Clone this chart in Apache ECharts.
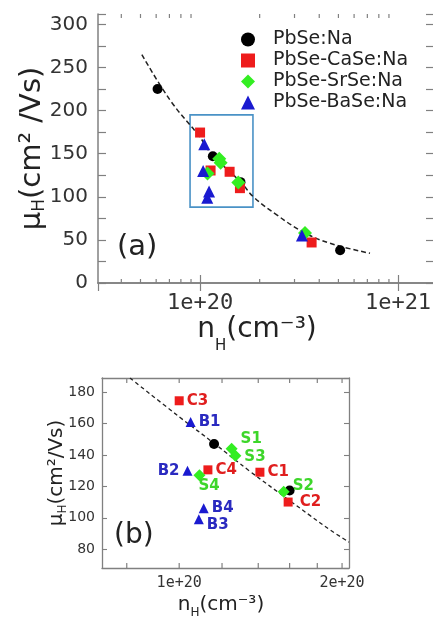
<!DOCTYPE html>
<html>
<head>
<meta charset="utf-8">
<script src="https://cdn.jsdelivr.net/npm/echarts@6/dist/echarts.min.js"></script>
<style>
html, body { margin: 0; padding: 0; background: #fff; }
#chart { width: 433px; height: 617px; }
</style>
</head>
<body>
<div id="chart"></div>
<script>
// ---- panel (a): every sample ----
var pbseN  = [6.1e19, 1.16e20, 1.6e20, 5.1e20];
var pbseMu = [225, 147, 117, 38];
var caseN  = [1.0e20, 1.13e20, 1.41e20, 1.59e20, 3.66e20];
var caseMu = [174.5, 130.5, 129, 110, 47];
var srseN  = [1.25e20, 1.27e20, 1.09e20, 1.56e20, 3.39e20];
var srseMu = [144, 139.5, 127, 116.5, 58];
var baseN  = [1.05e20, 1.036e20, 1.11e20, 1.087e20, 3.27e20];
var baseMu = [161, 130, 106, 99, 55];

// dashed guide curve as read from (a)
var fitAN  = [5.08e19, 7.06e19, 1.0e20, 1.146e20, 1.606e20, 1.858e20, 2.44e20, 3.33e20, 4.54e20, 7.22e20];
var fitAMu = [265, 212, 169, 149, 117, 100, 79, 59, 46, 34.5];

// the blue box in (a): nLow, muHigh, nHigh, muLow
var zoomBox = [8.9e19, 195, 1.85e20, 88];

// axis ranges
var rangeA = [3.05e19, 1.52e21, 0, 312];
var rangeB = [7.2e19, 2.06e20, 68, 189];
var minorTicksA = [4e19, 5e19, 6e19, 7e19, 8e19, 9e19, 2e20, 3e20, 4e20, 5e20, 6e20, 7e20, 8e20, 9e20];
var ticksB = [8e19, 1e20, 1.2e20, 1.4e20, 1.6e20, 1.8e20, 2e20];
var tickLabelsB = [1e20, 2e20];

// ---- panel (b): zoomed samples with tags ----
var pbseBN  = [1.16e20, 1.6e20];
var pbseBMu = [147, 117.3];
var caseBN  = [1.0e20, 1.13e20, 1.41e20, 1.59e20];
var caseBMu = [174.5, 130.5, 129, 110];
var caseBTag = ['C3', 'C4', 'C1', 'C2'];
var srseBN  = [1.25e20, 1.27e20, 1.09e20, 1.56e20];
var srseBMu = [144, 139.5, 127, 116.5];
var srseBTag = ['S1', 'S3', 'S4', 'S2'];
var baseBN  = [1.05e20, 1.036e20, 1.11e20, 1.087e20];
var baseBMu = [161, 130, 106, 99];
var baseBTag = ['B1', 'B2', 'B4', 'B3'];

var fitBN  = [8.11e19, 1.0e20, 1.164e20, 1.351e20, 1.602e20, 1.744e20, 1.9e20, 2.06e20];
var fitBMu = [189, 164.3, 147, 129.6, 110.8, 101.5, 92.3, 84.5];

var names = ['PbSe:Na', 'PbSe-CaSe:Na', 'PbSe-SrSe:Na', 'PbSe-BaSe:Na'];
var colors = ['#000000', '#ee1c1c', '#33ee22', '#1a1ad0'];
var tagColors = ['#000000', '#e01e1e', '#3dd62a', '#2a2ac0'];
var symbols = ['circle', 'rect', 'diamond', 'triangle'];
var sizesA = [10, 10, 14, 12];
var sizesB = [10, 9, 12, 10];

// where each tag sits next to its marker
var tagPlace = {
    C3: {}, B1: {}, S3: {offset: [0, 1]}, C4: {}, C1: {}, B4: {},
    S1: {offset: [0, -10]},
    B2: {position: 'left'},
    S4: {offset: [-10, 11]},
    S2: {offset: [0, -6]},
    C2: {distance: 7},
    B3: {offset: [0, 6]}
};

function pairs(n, mu) {
    return n.map(function (v, i) { return [v, mu[i]]; });
}
function tagged(n, mu, tags) {
    return n.map(function (v, i) {
        return {value: [v, mu[i]], name: tags[i], label: tagPlace[tags[i]]};
    });
}
function expLabel(v) {
    var e = Math.floor(Math.log10(v) + 1e-9);
    var m = Math.round(v / Math.pow(10, e));
    return m + 'e+' + e;
}

var grayAxis = {lineStyle: {color: '#808080', width: 1.5}};
var grayAxisB = {lineStyle: {color: '#808080', width: 1.3}};

function tickSeries(xi, yi, values, len, yVal) {
    return {
        type: 'custom', name: 'ticks' + xi, xAxisIndex: xi, yAxisIndex: yi, silent: true, z: 6,
        data: values.map(function (v) { return [v, yVal]; }),
        renderItem: function (params, api) {
            var x = api.coord([api.value(0), api.value(1)])[0];
            var cs = params.coordSys;
            var st = {stroke: '#808080', lineWidth: 1.2};
            return {type: 'group', children: [
                {type: 'line', shape: {x1: x, y1: cs.y + cs.height, x2: x, y2: cs.y + cs.height - len}, style: st},
                {type: 'line', shape: {x1: x, y1: cs.y, x2: x, y2: cs.y + len}, style: st}
            ]};
        }
    };
}

var subRich = function (main, sub, lh) {
    return {
        m: {fontSize: main, fontFamily: 'DejaVu Sans', color: '#222', lineHeight: lh},
        s: {fontSize: sub, fontFamily: 'DejaVu Sans', color: '#222', verticalAlign: 'bottom'}
    };
};

var chart = echarts.init(document.getElementById('chart'));
var series = [];

// panel (a)
series.push({
    type: 'line', name: 'fitA', xAxisIndex: 0, yAxisIndex: 0, data: pairs(fitAN, fitAMu),
    smooth: 0.4, symbol: 'none', z: 2,
    lineStyle: {color: '#222', width: 1.5, type: [5, 3]},
    markArea: {
        silent: true,
        itemStyle: {color: 'rgba(0,0,0,0)', borderColor: '#4a92c6', borderWidth: 1.6},
        data: [[{coord: [zoomBox[0], zoomBox[1]]}, {coord: [zoomBox[2], zoomBox[3]]}]]
    }
});
[[pbseN, pbseMu], [caseN, caseMu], [srseN, srseMu], [baseN, baseMu]].forEach(function (d, i) {
    series.push({
        type: 'scatter', name: names[i], xAxisIndex: 0, yAxisIndex: 0, data: pairs(d[0], d[1]),
        symbol: symbols[i], symbolSize: sizesA[i], z: 3,
        itemStyle: {color: colors[i], opacity: 1}
    });
});
series.push(tickSeries(0, 0, minorTicksA, 4, 100));

// panel (b)
series.push({
    type: 'line', name: 'fitB', xAxisIndex: 2, yAxisIndex: 2, data: pairs(fitBN, fitBMu),
    smooth: 0.4, symbol: 'none', z: 2,
    lineStyle: {color: '#222', width: 1.3, type: [4, 3]}
});
[[pbseBN, pbseBMu, null], [caseBN, caseBMu, caseBTag], [srseBN, srseBMu, srseBTag], [baseBN, baseBMu, baseBTag]].forEach(function (d, i) {
    series.push({
        type: 'scatter', name: names[i], xAxisIndex: 2, yAxisIndex: 2,
        data: d[2] ? tagged(d[0], d[1], d[2]) : pairs(d[0], d[1]),
        symbol: symbols[i], symbolSize: sizesB[i], z: 3,
        itemStyle: {color: colors[i], opacity: 1},
        label: {
            show: !!d[2], position: 'right', distance: 3, formatter: '{b}',
            color: tagColors[i], fontSize: 15, fontWeight: 'bold', fontFamily: 'DejaVu Sans'
        }
    });
});
series.push(tickSeries(2, 2, ticksB, 5, 100));
series.push({
    type: 'custom', name: 'labelsB', xAxisIndex: 2, yAxisIndex: 2, silent: true,
    data: tickLabelsB.map(function (v) { return [v, 100]; }),
    renderItem: function (params, api) {
        var x = api.coord([api.value(0), api.value(1)])[0];
        var cs = params.coordSys;
        return {type: 'text', style: {
            text: expLabel(api.value(0)), x: x, y: cs.y + cs.height + 8,
            align: 'center', verticalAlign: 'top',
            fontSize: 15, fontFamily: 'DejaVu Sans Mono', fill: '#333'
        }};
    }
});

var option = {
    animation: false,
    backgroundColor: '#fff',
    grid: [
        {left: 98, top: 14, width: 336, height: 269, containLabel: false, outerBoundsMode: 'none'},
        {left: 102, top: 378, width: 247, height: 190, containLabel: false, outerBoundsMode: 'none'}
    ],
    legend: {
        data: names.map(function (n, i) { return {name: n, icon: symbols[i]}; }),
        orient: 'vertical', left: 236, top: 25, itemWidth: 14, itemHeight: 14, itemGap: 2,
        selectedMode: false,
        textStyle: {fontSize: 19, fontFamily: 'DejaVu Sans', color: '#222', lineHeight: 19, padding: [0, 0, 0, 13]}
    },
    graphic: [
        {type: 'text', left: 117, top: 233, style: {text: '(a)', fontSize: 29, fontFamily: 'DejaVu Sans', fill: '#222'}},
        {type: 'text', left: 114, top: 522, style: {text: '(b)', fontSize: 28, fontFamily: 'DejaVu Sans', fill: '#222'}}
    ],
    xAxis: [
        {
            type: 'log', gridIndex: 0, min: rangeA[0], max: rangeA[1], position: 'bottom',
            axisLine: grayAxis, splitLine: {show: false},
            axisTick: {inside: true, length: 8, lineStyle: {color: '#808080', width: 1.2}},
            axisLabel: {
                margin: 9, fontSize: 22, fontFamily: 'DejaVu Sans Mono', color: '#333',
                showMinLabel: false, showMaxLabel: false,
                formatter: function (v) {
                    var e = Math.log10(v);
                    return Math.abs(e - Math.round(e)) < 1e-6 ? '1e+' + Math.round(e) : '';
                }
            },
            name: '{m|n}{s|H}{m|(cm⁻³)}', nameLocation: 'middle', nameGap: 23, nameMoveOverlap: false,
            nameTextStyle: {padding: [0, 18, 0, 0], rich: subRich(28, 15, 48)}
        },
        {
            type: 'log', gridIndex: 0, min: rangeA[0], max: rangeA[1], position: 'top',
            axisLine: grayAxis, splitLine: {show: false}, axisLabel: {show: false},
            axisTick: {inside: true, length: 8, lineStyle: {color: '#808080', width: 1.2}}
        },
        {
            type: 'log', gridIndex: 1, min: rangeB[0], max: rangeB[1], position: 'bottom',
            axisLine: grayAxisB, splitLine: {show: false},
            axisTick: {show: false}, axisLabel: {show: false},
            name: '{m|n}{s|H}{m|(cm⁻³)}', nameLocation: 'middle', nameGap: 23, nameMoveOverlap: false,
            nameTextStyle: {padding: [0, 9, 0, 0], rich: subRich(20, 12, 28)}
        },
        {
            type: 'log', gridIndex: 1, min: rangeB[0], max: rangeB[1], position: 'top',
            axisLine: grayAxisB, splitLine: {show: false},
            axisTick: {show: false}, axisLabel: {show: false}
        }
    ],
    yAxis: [
        {
            type: 'value', gridIndex: 0, min: rangeA[2], max: rangeA[3], interval: 25, position: 'left',
            axisLine: {show: true, lineStyle: grayAxis.lineStyle}, splitLine: {show: false},
            axisTick: {show: true, inside: true, length: 8, lineStyle: {color: '#808080', width: 1.2}},
            axisLabel: {
                margin: 10, fontSize: 20, fontFamily: 'DejaVu Sans', color: '#333',
                formatter: function (v) { return v % 50 === 0 ? String(v) : ''; }
            },
            name: '{m|μ}{s|H}{m|(cm² /Vs)}', nameLocation: 'middle', nameGap: 50, nameRotate: 90,
            nameMoveOverlap: false,
            nameTextStyle: {rich: subRich(29, 17, 32)}
        },
        {
            type: 'value', gridIndex: 0, min: rangeA[2], max: rangeA[3], interval: 25, position: 'right',
            axisLine: {show: true, lineStyle: grayAxis.lineStyle}, splitLine: {show: false},
            axisTick: {show: true, inside: true, length: 8, lineStyle: {color: '#808080', width: 1.2}},
            axisLabel: {show: false}
        },
        {
            type: 'value', gridIndex: 1, min: rangeB[2], max: rangeB[3], position: 'left',
            axisLine: {show: true, lineStyle: grayAxisB.lineStyle}, splitLine: {show: false},
            axisTick: {show: true, inside: true, length: 5, lineStyle: {color: '#808080', width: 1.1}},
            axisLabel: {
                margin: 7, fontSize: 14, fontFamily: 'DejaVu Sans', color: '#333',
                showMinLabel: false, showMaxLabel: false,
                formatter: function (v) { return v % 20 === 0 ? String(v) : ''; }
            },
            name: '{m|μ}{s|H}{m|(cm²/Vs)}', nameLocation: 'middle', nameGap: 33, nameRotate: 90,
            nameMoveOverlap: false,
            nameTextStyle: {rich: subRich(20, 12, 24)}
        },
        {
            type: 'value', gridIndex: 1, min: rangeB[2], max: rangeB[3], position: 'right',
            axisLine: {show: true, lineStyle: grayAxisB.lineStyle}, splitLine: {show: false},
            axisTick: {show: true, inside: true, length: 5, lineStyle: {color: '#808080', width: 1.1}},
            axisLabel: {show: false}
        }
    ],
    series: series
};
chart.setOption(option);
</script>
</body>
</html>
